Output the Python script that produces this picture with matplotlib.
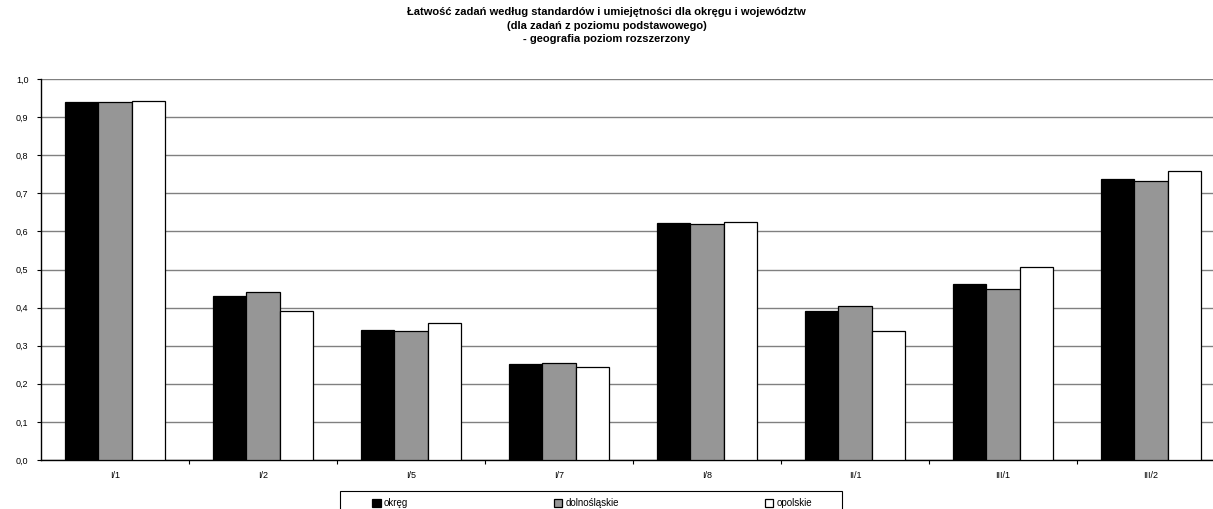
import numpy as np
import matplotlib.pyplot as plt
from matplotlib.patches import Rectangle
from matplotlib.ticker import FuncFormatter, FixedLocator

plt.rcParams['font.family'] = ['Liberation Sans', 'DejaVu Sans']

categories = ["I/1", "I/2", "I/5", "I/7", "I/8", "II/1", "III/1", "III/2"]
series_names = ["okręg", "dolnośląskie", "opolskie"]
okreg = [0.940, 0.430, 0.342, 0.252, 0.621, 0.392, 0.462, 0.738]
dolnoslaskie = [0.940, 0.442, 0.338, 0.255, 0.620, 0.405, 0.448, 0.732]
opolskie = [0.943, 0.390, 0.359, 0.245, 0.624, 0.338, 0.506, 0.759]
colors = ["#000000", "#969696", "#ffffff"]

W, H = 1213, 509
fig = plt.figure(figsize=(W / 100, H / 100), dpi=100)
ax = fig.add_axes([41 / W, 1 - 460 / H, 1184 / W, 381 / H])

x = np.arange(len(categories))
w = 0.223
for i, (vals, name, c) in enumerate(zip([okreg, dolnoslaskie, opolskie], series_names, colors)):
    ax.bar(x + (i - 1) * w, vals, width=w, color=c, edgecolor="black",
           linewidth=0.9, label=name, zorder=3)

ax.set_xlim(-0.5, len(categories) - 0.5)
ax.set_ylim(0, 1.0)
ax.set_yticks(np.arange(0, 1.01, 0.1))
ax.yaxis.set_major_formatter(FuncFormatter(lambda v, p: f"{v:.1f}".replace(".", ",")))
ax.yaxis.grid(True, color="#808080", linewidth=1.0, zorder=0)

# ticks between categories, labels in the middle
ax.xaxis.set_major_locator(FixedLocator(x[:-1] + 0.5))
ax.xaxis.set_minor_locator(FixedLocator(x))
ax.set_xticklabels([])
ax.set_xticklabels(categories, minor=True)
ax.tick_params(axis="x", which="minor", length=0, pad=8, labelsize=6.5)
ax.tick_params(axis="x", which="major", length=3, width=0.8, direction="out")
ax.tick_params(axis="y", length=3, width=0.8, labelsize=6.5, pad=6)

for s in ["top", "right"]:
    ax.spines[s].set_visible(False)
ax.spines["left"].set_linewidth(1.0)
ax.spines["bottom"].set_linewidth(1.0)

fig.text(0.5, 1 - 7 / H,
         "Łatwość zadań według standardów i umiejętności dla okręgu i województw\n"
         "(dla zadań z poziomu podstawowego)\n"
         "- geografia poziom rozszerzony",
         ha="center", va="top", fontsize=8, fontweight="bold", linespacing=1.45)

# legend frame drawn separately (it runs past the bottom edge)
fig.patches.append(Rectangle((340 / W, -0.02), 502 / W, 0.02 + 18 / H,
                             transform=fig.transFigure, fill=False,
                             edgecolor="black", linewidth=0.8))
leg = fig.legend(loc="center left", bbox_to_anchor=(372 / W, 1 - 503 / H, 440 / W, 0.0),
                 mode="expand", ncol=3, fontsize=7, frameon=False,
                 handlelength=0.9, handleheight=0.9, handletextpad=0.3,
                 borderpad=0.0, borderaxespad=0.0)

fig.savefig("out.png", dpi=100)
